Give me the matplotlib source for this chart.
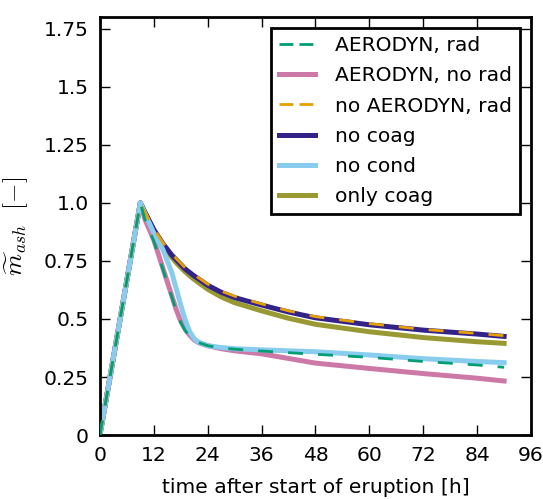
import matplotlib
matplotlib.use("Agg")
import matplotlib.pyplot as plt
from matplotlib.lines import Line2D

# ----------------------------------------------------------------------
# data (hours after eruption start, normalised mass)
# ----------------------------------------------------------------------
t = [0, 9, 10, 12, 14, 16, 17, 18, 19, 20, 21, 22, 24, 27, 30, 36, 42, 48, 60, 72, 84, 90]

aero_rad = [0, 1.0, 0.93, 0.835, 0.715, 0.595, 0.535, 0.485, 0.45, 0.425, 0.41, 0.398,
            0.385, 0.375, 0.37, 0.362, 0.355, 0.348, 0.335, 0.317, 0.302, 0.292]
aero_norad = [0, 1.0, 0.93, 0.84, 0.72, 0.60, 0.54, 0.49, 0.455, 0.43, 0.41, 0.398,
              0.385, 0.372, 0.363, 0.35, 0.33, 0.31, 0.287, 0.265, 0.245, 0.233]
noaero_rad = [0, 1.0, 0.96, 0.89, 0.83, 0.78, 0.76, 0.74, 0.72, 0.705, 0.69, 0.677,
              0.65, 0.62, 0.598, 0.565, 0.535, 0.51, 0.48, 0.455, 0.438, 0.428]
no_coag = [0, 1.0, 0.96, 0.885, 0.825, 0.775, 0.755, 0.735, 0.715, 0.70, 0.685, 0.672,
           0.645, 0.615, 0.592, 0.56, 0.53, 0.505, 0.475, 0.452, 0.435, 0.425]
no_cond = [0, 1.0, 0.955, 0.87, 0.80, 0.70, 0.63, 0.56, 0.495, 0.445, 0.415, 0.40,
           0.385, 0.377, 0.372, 0.367, 0.363, 0.359, 0.345, 0.329, 0.317, 0.312]
only_coag = [0, 1.0, 0.96, 0.88, 0.815, 0.765, 0.742, 0.722, 0.703, 0.686, 0.67, 0.656,
             0.628, 0.595, 0.57, 0.535, 0.503, 0.477, 0.445, 0.42, 0.402, 0.395]

xticks = [0, 12, 24, 36, 48, 60, 72, 84, 96]
yticks = [0, 0.25, 0.5, 0.75, 1.0, 1.25, 1.5, 1.75]
ytick_labels = ["0", "0.25", "0.5", "0.75", "1.0", "1.25", "1.5", "1.75"]

# ----------------------------------------------------------------------
# figure
# ----------------------------------------------------------------------
plt.rcParams["font.size"] = 14.6
plt.rcParams["mathtext.fontset"] = "cm"

fig = plt.figure(figsize=(5.43, 4.99), dpi=100)
ax = fig.add_axes([0.184, 0.128, 0.794, 0.838])

solid_lw = 3.6
dash_lw = 2.0
plot_dashes = (5.4, 5.4)     # long dashes along the curves
legend_dashes = (5.0, 2.2)   # legend swatch shows two short dashes

series = [
    # (values, label, colour, dashed, zorder)
    (aero_rad, "AERODYN, rad", "#009E73", True, 3.1),
    (aero_norad, "AERODYN, no rad", "#CC79A7", False, 2.2),
    (noaero_rad, "no AERODYN, rad", "#E69F00", True, 3.0),
    (no_coag, "no coag", "#332288", False, 2.1),
    (no_cond, "no cond", "#88CCEE", False, 2.3),
    (only_coag, "only coag", "#999933", False, 2.0),
]

handles = []
for vals, label, col, dashed, z in series:
    if dashed:
        ax.plot(t, vals, color=col, lw=dash_lw, dashes=plot_dashes, zorder=z)
        handles.append(Line2D([], [], color=col, lw=dash_lw, dashes=legend_dashes, label=label))
    else:
        ax.plot(t, vals, color=col, lw=solid_lw, zorder=z)
        handles.append(Line2D([], [], color=col, lw=solid_lw, label=label))

ax.set_xlim(0, 96)
ax.set_ylim(0, 1.8)
ax.set_xticks(xticks)
ax.set_yticks(yticks)
ax.set_yticklabels(ytick_labels)
ax.tick_params(direction="in", length=7, width=1, top=True, right=True, pad=8)
for s in ax.spines.values():
    s.set_linewidth(2)

ax.set_xlabel("time after start of eruption [h]", labelpad=9)
ax.set_ylabel(r"$\widetilde{m}_{ash}\ \ [-]$", fontsize=18, labelpad=10)

leg = ax.legend(handles=handles, loc="upper right", fontsize=14.6, fancybox=False,
                framealpha=1, handlelength=1.75, handletextpad=1.0, labelspacing=0.55,
                borderaxespad=0.55)
leg.get_frame().set_edgecolor("black")
leg.get_frame().set_linewidth(2)

fig.savefig("out.png", dpi=100)
